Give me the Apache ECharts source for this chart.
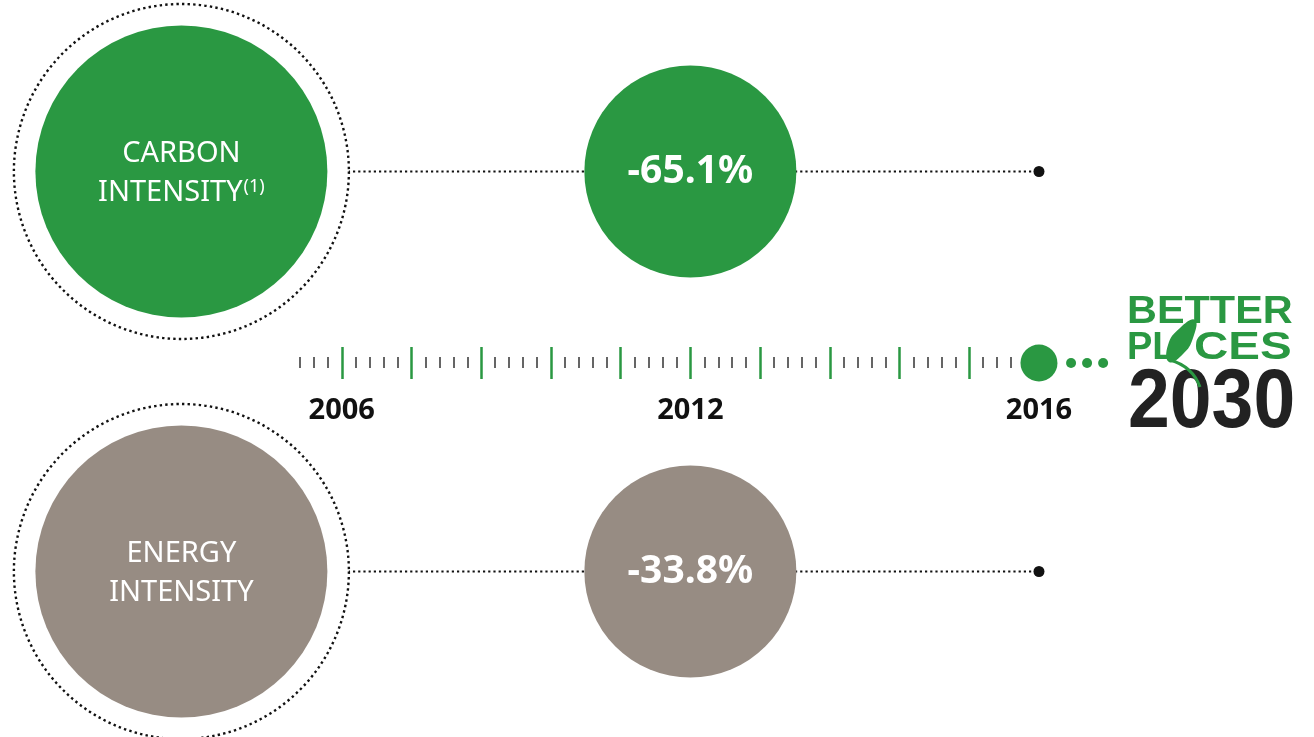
<!DOCTYPE html>
<html>
<head>
<meta charset="utf-8">
<title>Carbon and energy intensity</title>
<script src="https://cdn.jsdelivr.net/npm/echarts@6/dist/echarts.min.js"></script>
<style>
  html, body { margin: 0; padding: 0; background: #fff; }
  #chart { width: 1314px; height: 737px; }
</style>
</head>
<body>
<div id="chart"></div>
<script>
// timeline labels and the slot (green tick) each one sits on
var yearLabels = ['2006', '2012', '2016'];
var yearSlots = [0, 5, 10];

// the two indicators, change over the period in %
var metricNames = ['CARBON\nINTENSITY', 'ENERGY\nINTENSITY'];
var metricNotes = ['(1)', ''];
var metricChanges = [-65.1, -33.8];

var GREEN = '#2a9842';
var GREY = '#978c83';
var INK = '#111';
var metricColors = [GREEN, GREY];

var LABEL_SLOT = -2.3;      // where the big name circles sit on the x scale
var X_MIN = -4.5, X_MAX = 13.5;

// green tick on every slot, four small ones in between
var majorTicks = [];
var minorTicks = [];
for (var i = -3; i <= 48; i++) {
  if (i % 5 === 0) majorTicks.push(i / 5);
  else minorTicks.push(i / 5);
}
// the "still to come" dots after 2016
var futureDots = [0.46, 0.69, 0.92].map(function (d) { return [yearSlots[2] + d, 0]; });

var chart = echarts.init(document.getElementById('chart'));

var gridBase = { left: 28, width: 1255 };
var grids = [
  Object.assign({ top: 71.5, height: 200 }, gridBase),
  Object.assign({ top: 347, height: 32 }, gridBase),
  Object.assign({ top: 471.5, height: 200 }, gridBase)
];

function hiddenX(g) {
  return { gridIndex: g, type: 'value', min: X_MIN, max: X_MAX, show: false };
}
function hiddenY(g) {
  return { gridIndex: g, type: 'value', min: -1, max: 1, show: false };
}

var series = [];

metricNames.forEach(function (name, m) {
  var xi = m === 0 ? 0 : 3;
  var yi = m === 0 ? 0 : 2;
  var base = { xAxisIndex: xi, yAxisIndex: yi, clip: false, silent: true, animation: false };

  // dotted connector, the white ring hides it inside the circle
  series.push(Object.assign({
    type: 'line',
    data: [[LABEL_SLOT, 0], [yearSlots[2], 0]],
    symbol: 'none',
    lineStyle: { color: INK, width: 2.2, type: [2.2, 3], opacity: 1 },
    z: 1
  }, base));

  series.push(Object.assign({
    type: 'scatter',
    data: [[LABEL_SLOT, 0]],
    symbolSize: 335,
    itemStyle: { color: '#fff', borderColor: INK, borderWidth: 2.4, borderType: [2.4, 3.2], opacity: 1 },
    z: 2
  }, base));

  series.push(Object.assign({
    type: 'scatter',
    data: [{ value: [LABEL_SLOT, 0], name: name }],
    symbolSize: 292,
    itemStyle: { color: metricColors[m], opacity: 1 },
    label: {
      show: true,
      position: 'inside',
      offset: [0, 2],
      formatter: function () {
        var lines = name.split('\n');
        return '{n|' + lines[0] + '}\n{n|' + lines[1] + '}' +
          (metricNotes[m] ? '{s|' + metricNotes[m] + '}' : '');
      },
      rich: {
        n: { fontFamily: 'Noto Sans', fontSize: 29, color: '#fff', lineHeight: 39 },
        s: { fontFamily: 'Noto Sans', fontSize: 18, color: '#fff', lineHeight: 18, padding: [0, 0, 12, 1], verticalAlign: 'middle' }
      }
    },
    z: 3
  }, base));

  series.push(Object.assign({
    type: 'scatter',
    data: [[yearSlots[1], 0]],
    symbolSize: 212,
    itemStyle: { color: metricColors[m], opacity: 1 },
    label: {
      show: true,
      position: 'inside',
      formatter: metricChanges[m].toFixed(1) + '%',
      fontFamily: 'Noto Sans',
      fontWeight: 'bold',
      fontSize: 39,
      color: '#fff'
    },
    z: 3
  }, base));

  series.push(Object.assign({
    type: 'scatter',
    data: [[yearSlots[2], 0]],
    symbolSize: 11,
    itemStyle: { color: INK, opacity: 1 },
    z: 3
  }, base));
});

// timeline: today dot and the future dots
series.push({
  type: 'scatter', xAxisIndex: 1, yAxisIndex: 1, clip: false, silent: true,
  data: [[yearSlots[2], 0]], symbolSize: 37, itemStyle: { color: GREEN, opacity: 1 }, z: 5
});
series.push({
  type: 'scatter', xAxisIndex: 1, yAxisIndex: 1, clip: false, silent: true,
  data: futureDots, symbolSize: 10, itemStyle: { color: GREEN, opacity: 1 }, z: 5
});

var option = {
  backgroundColor: '#fff',
  animation: false,
  grid: grids,
  xAxis: [
    hiddenX(0),
    {
      gridIndex: 1, type: 'value', min: X_MIN, max: X_MAX, position: 'bottom',
      axisLine: { show: false, onZero: false },
      splitLine: { show: false },
      axisTick: { show: true, inside: true, length: 32, customValues: majorTicks, lineStyle: { color: GREEN, width: 2.5 } },
      axisLabel: {
        customValues: yearSlots,
        formatter: function (v) { return yearLabels[yearSlots.indexOf(v)]; },
        margin: 17,
        fontFamily: 'Open Sans',
        fontWeight: 'bold',
        fontSize: 29,
        color: INK
      }
    },
    {
      gridIndex: 1, type: 'value', min: X_MIN, max: X_MAX, position: 'bottom', offset: -11,
      axisLine: { show: false, onZero: false },
      splitLine: { show: false },
      axisTick: { show: true, inside: true, length: 11, customValues: minorTicks, lineStyle: { color: '#333', width: 1.5 } },
      axisLabel: { show: false }
    },
    hiddenX(2)
  ],
  yAxis: [hiddenY(0), hiddenY(1), hiddenY(2)],
  series: series,
  graphic: [
    { type: 'text', left: 1127, top: 294, scaleX: 1.09,
      style: { text: 'BETTER', font: 'bold 38px "Liberation Sans"', fill: GREEN } },
    { type: 'text', left: 1127, top: 330,
      style: { text: 'PL', font: 'bold 38px "Liberation Sans"', fill: GREEN } },
    { type: 'text', left: 1194, top: 330, scaleX: 1.25,
      style: { text: 'CES', font: 'bold 38px "Liberation Sans"', fill: GREEN } },
    { type: 'text', left: 1128, top: 362, scaleX: 0.895,
      style: { text: '2030', font: 'bold 84px "Liberation Sans"', fill: '#222' } },
    { type: 'polygon', z: 10,
      shape: { points: [[1195, 320], [1180, 328], [1168, 345], [1169, 362], [1183, 354], [1193, 338]], smooth: 0.5 },
      style: { fill: GREEN } },
    { type: 'bezierCurve', z: 10,
      shape: { x1: 1170, y1: 360, cpx1: 1184, cpy1: 364, cpx2: 1195, cpy2: 373, x2: 1200, y2: 387 },
      style: { fill: null, stroke: GREEN, lineWidth: 3 } }
  ]
};

chart.setOption(option);
</script>
</body>
</html>
